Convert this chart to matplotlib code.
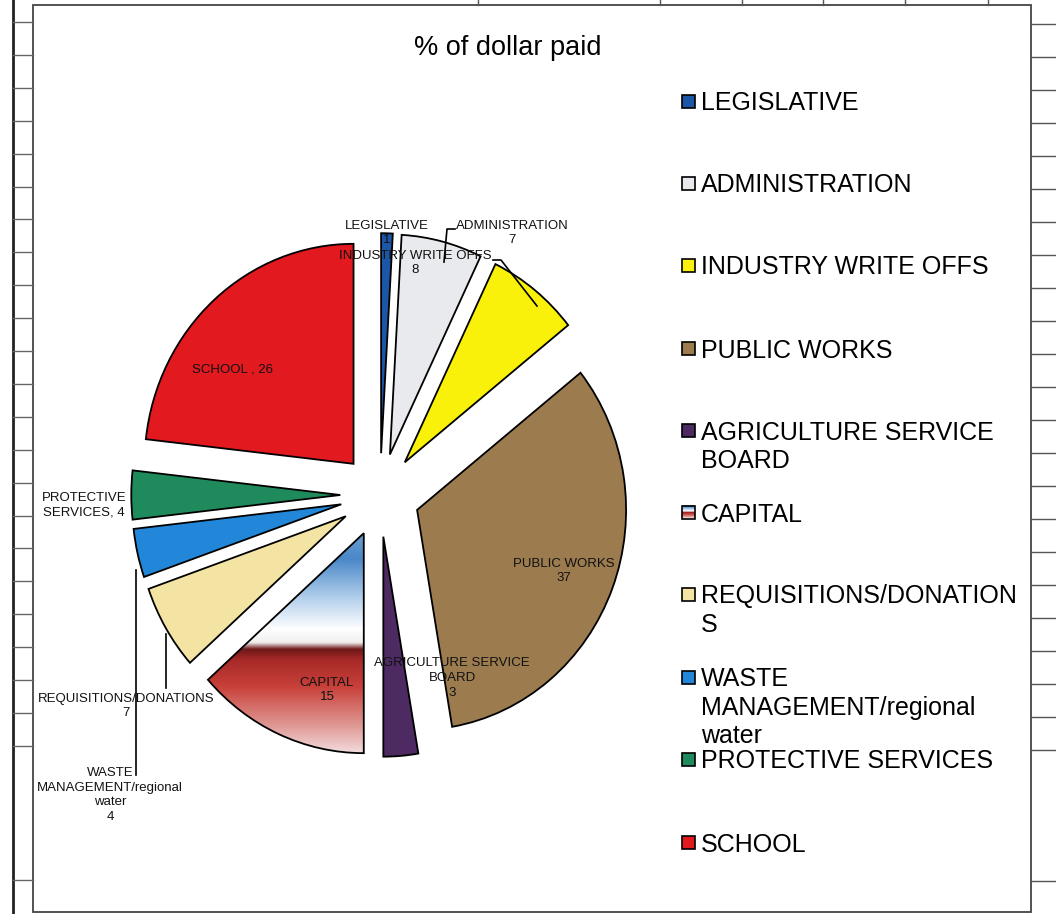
import numpy as np
import matplotlib
matplotlib.use('Agg')
from matplotlib import pyplot as plt
from matplotlib.colors import LinearSegmentedColormap
from matplotlib.patches import Rectangle

plt.rcParams['font.family'] = ['Liberation Sans', 'DejaVu Sans']

# data
categories = ['LEGISLATIVE', 'ADMINISTRATION', 'INDUSTRY WRITE OFFS', 'PUBLIC WORKS',
              'AGRICULTURE SERVICE BOARD', 'CAPITAL', 'REQUISITIONS/DONATIONS',
              'WASTE MANAGEMENT/regional water', 'PROTECTIVE SERVICES', 'SCHOOL']
values = [1, 7, 8, 37, 3, 15, 7, 4, 4, 26]
colors = ['#1c56a6', '#e8eaee', '#f9f10a', '#9c7b4f', '#4e2a62',
          '#dde8f4', '#f4e4a4', '#2287d8', '#1f8a5b', '#e2191f']
# how excel wrapped the texts
data_names = ['LEGISLATIVE\n', 'ADMINISTRATION\n', 'INDUSTRY WRITE OFFS\n', 'PUBLIC WORKS\n',
              'AGRICULTURE SERVICE\nBOARD\n', 'CAPITAL\n', 'REQUISITIONS/DONATIONS\n',
              'WASTE\nMANAGEMENT/regional\nwater\n', 'PROTECTIVE\nSERVICES, ', 'SCHOOL , ']
legend_names = ['LEGISLATIVE', 'ADMINISTRATION', 'INDUSTRY WRITE OFFS', 'PUBLIC WORKS',
                'AGRICULTURE SERVICE\nBOARD', 'CAPITAL', 'REQUISITIONS/DONATION\nS',
                'WASTE\nMANAGEMENT/regional\nwater', 'PROTECTIVE SERVICES', 'SCHOOL']
title = '% of dollar paid'

W, H = 1056, 914
fig = plt.figure(figsize=(W / 100, H / 100), dpi=100)

# pie axes, placed in pixels (scan is a bit squashed sideways)
cx, cy, rx, ry = 380, 495, 209, 220
lim = 1.4
left = cx - lim * rx
top = cy - lim * ry
ax = fig.add_axes([left / W, 1 - (top + 2 * lim * ry) / H, 2 * lim * rx / W, 2 * lim * ry / H])
wedges, _ = ax.pie(values, colors=colors, startangle=90, counterclock=False,
                   explode=[0.19] * len(values),
                   wedgeprops=dict(edgecolor='black', linewidth=1.3))
ax.set_aspect('auto')

# gradient fill of CAPITAL
cap_cmap = LinearSegmentedColormap.from_list('cap', [
    (0.0, '#f2dcdc'), (0.12, '#e09a96'), (0.3, '#c8403a'), (0.42, '#a82a28'),
    (0.47, '#6e1818'), (0.5, '#f2eeee'), (0.56, '#ffffff'), (0.7, '#b4d0ec'),
    (0.88, '#4a88c8'), (1.0, '#6c9fd2')])
w = wedges[5]
w.set_facecolor('none')
v = w.get_path().vertices
grad = np.linspace(0, 1, 256).reshape(-1, 1)
im = ax.imshow(grad, extent=(v[:, 0].min(), v[:, 0].max(), v[:, 1].min(), v[:, 1].max()),
               origin='lower', cmap=cap_cmap, aspect='auto', zorder=w.get_zorder() - 0.01)
im.set_clip_path(w)
ax.set_xlim(-lim, lim)
ax.set_ylim(-lim, lim)

# overlay in pixel coords for texts, leader lines, legend and sheet grid
ov = fig.add_axes([0, 0, 1, 1])
ov.axis('off')
ov.patch.set_alpha(0)

# spreadsheet cells around the chart
ov.plot([13, 13], [0, H], color='#222222', lw=2)
ov.add_patch(Rectangle((33, 5), 1031 - 33, 907, fill=False, ec='#444444', lw=1.3))
for yy in list(np.arange(22, 750, 32.9)) + [880]:
    ov.plot([13, 33], [yy, yy], color='#666666', lw=1)
for yy in list(np.arange(24, 760, 33)) + [881]:
    ov.plot([1031, W], [yy, yy], color='#555555', lw=1)
for xx in [478, 660, 742, 823, 905, 988]:
    ov.plot([xx, xx], [0, 5], color='#555555', lw=1)

ov.text(508, 48, title, ha='center', va='center', fontsize=19.5)

# data labels
label_pos = [(387, 233), (512, 233), (415, 263), (564, 571), (452, 678),
             (327, 690), (126, 706), (110, 795), (84, 505), (232, 370)]
for name, val, (lx, ly) in zip(data_names, values, label_pos):
    ov.text(lx, ly, f'{name}{val}', ha='center', va='center', fontsize=9.5,
            linespacing=1.3, color='#111111')

leaders = [[(455, 229), (447, 229), (444, 262)],
           [(493, 260), (501, 260), (537, 306)],
           [(166, 634), (166, 688)],
           [(136, 570), (136, 775)]]
for pts in leaders:
    xs, ys = zip(*pts)
    ov.plot(xs, ys, color='black', lw=1.2)

# legend
leg_y = [101, 183, 265, 348, 430, 512, 594, 677, 759, 842]
for name, col, ly in zip(legend_names, colors, leg_y):
    if name == 'CAPITAL':
        ov.imshow(grad, extent=(682, 695, ly + 6.5, ly - 6.5), origin='lower',
                  cmap=cap_cmap, aspect='auto', zorder=2)
        ov.add_patch(Rectangle((682, ly - 6.5), 13, 13, fill=False, ec='black', lw=1.2, zorder=3))
    else:
        ov.add_patch(Rectangle((682, ly - 6.5), 13, 13, fc=col, ec='black', lw=1.2))
    ov.text(701, ly - 9.5, name, ha='left', va='top', fontsize=18, linespacing=1.22)
ov.set_xlim(0, W)
ov.set_ylim(H, 0)

fig.savefig('out.png', dpi=100, facecolor='white')
